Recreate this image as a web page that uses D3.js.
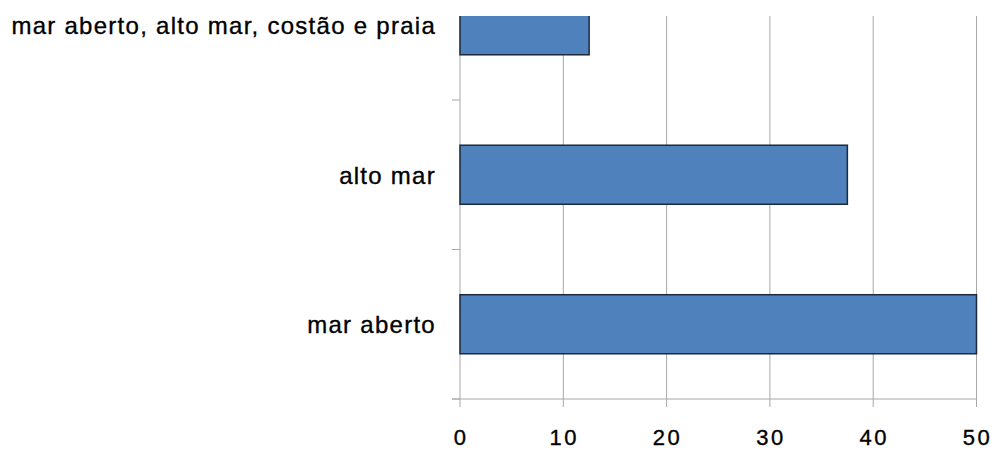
<!DOCTYPE html>
<html><head><meta charset="utf-8">
<script src="https://cdn.jsdelivr.net/npm/d3@7"></script>
<style>body{margin:0;background:#fff}svg{display:block}</style>
</head><body>
<svg id="c" width="992" height="449"></svg>
<script>
const categories = ["mar aberto", "alto mar", "mar aberto, alto mar, costão e praia"];
const values = [50, 37.5, 12.5];
const xTicks = [0, 10, 20, 30, 40, 50];

const svg = d3.select("#c");
const left = 460, right = 976.5, bottom = 399, clipTop = 16;
const step = 149.5;
const x = d3.scaleLinear().domain([0, 50]).range([left, right]);
const y = d3.scaleBand().domain(categories).range([bottom, bottom - step * categories.length])
  .paddingInner(0.605).paddingOuter(0.3025);

svg.append("defs").append("clipPath").attr("id", "pc")
  .append("rect").attr("x", 0).attr("y", clipTop).attr("width", 992).attr("height", 449 - clipTop);

const g = svg.append("g").attr("clip-path", "url(#pc)");
const gridColor = "#a8a8a8";

// vertical gridlines
g.selectAll("line.grid").data(xTicks.slice(1)).join("line")
  .attr("x1", d => x(d)).attr("x2", d => x(d))
  .attr("y1", clipTop - 60).attr("y2", bottom + 8)
  .attr("stroke", gridColor).attr("stroke-width", 1);

// y axis line
g.append("line").attr("x1", left).attr("x2", left).attr("y1", clipTop - 60).attr("y2", bottom + 8)
  .attr("stroke", gridColor).attr("stroke-width", 1);
// y ticks at band boundaries
const bounds = d3.range(categories.length + 1).map(i => bottom - i * step);
g.selectAll("line.yt").data(bounds).join("line")
  .attr("x1", left - 8).attr("x2", left).attr("y1", d => d).attr("y2", d => d)
  .attr("stroke", gridColor).attr("stroke-width", 1);
// x axis line
g.append("line").attr("x1", left - 8).attr("x2", right).attr("y1", bottom).attr("y2", bottom)
  .attr("stroke", gridColor).attr("stroke-width", 1);

// bars
g.selectAll("rect.bar").data(categories).join("rect")
  .attr("x", x(0)).attr("y", d => y(d))
  .attr("width", (d, i) => x(values[i]) - x(0))
  .attr("height", y.bandwidth())
  .attr("fill", "#4f81bd").attr("stroke", "#1d2a3a").attr("stroke-width", 1.5);

const font = "'Liberation Sans', Arial, sans-serif";
// category labels
svg.selectAll("text.cat").data(categories).join("text")
  .attr("x", 436).attr("y", d => y(d) + y.bandwidth() / 2 + 9)
  .attr("text-anchor", "end").attr("font-family", font).attr("font-size", 24)
  .attr("letter-spacing", 1.27).attr("fill", "#000")
  .attr("stroke", "#000").attr("stroke-width", 0.35).text(d => d);

// x tick labels
svg.selectAll("text.xt").data(xTicks).join("text")
  .attr("x", d => x(d) + 1).attr("y", 445)
  .attr("text-anchor", "middle").attr("font-family", font).attr("font-size", 22)
  .attr("letter-spacing", 2.5).attr("fill", "#000")
  .attr("stroke", "#000").attr("stroke-width", 0.35).text(d => d);
</script>
</body></html>
